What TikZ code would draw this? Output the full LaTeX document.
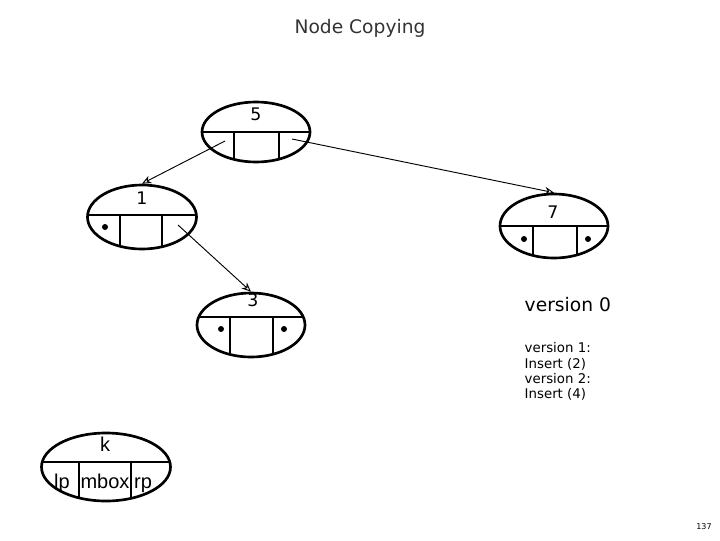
\documentclass[tikz,border=0pt]{standalone}
\usepackage{fontspec}
\setmainfont{DejaVu Sans}
\newfontfamily\arialf{Liberation Sans}
\usetikzlibrary{shapes.geometric,arrows.meta}
\newcommand\lnode[8]{% name, cx, cy, w, h, liney, v1, v2
  \node[draw,line width=2pt,ellipse,inner sep=0,minimum width=#4*0.75pt,minimum height=#5*0.75pt] (#1) at (#2,#3) {};
  \begin{scope}
    \clip (#2,#3) ellipse ({#4/2} and {#5/2});
    \draw[line width=2pt] (#2-#4/2,#8) -- (#2+#4/2,#8);
    \draw[line width=2pt] (#6,#8) -- (#6,#3+#5/2) (#7,#8) -- (#7,#3+#5/2);
  \end{scope}}
\begin{document}
\begin{tikzpicture}[x=0.75pt,y=-0.75pt,
  arr/.style={-{Stealth[length=7pt,width=6pt,open]},line width=0.7pt},
  dot/.style={circle,fill,inner sep=0,minimum size=4.5pt},
  ak/.style={font=\arialf\fontsize{15}{17}\selectfont,anchor=base}]
\useasboundingbox (0,0) rectangle (720,540);
\node[font=\fontsize{14}{16}\selectfont,text=black!80] (title) at (360,28) {Node Copying};
\lnode{n5}{256}{132}{108}{60}{234}{279}{132}
\node[font=\fontsize{13}{15}\selectfont] (l5) at (256,114) {5};
\lnode{n1}{142}{217}{109}{64}{120}{162}{215}
\node[font=\fontsize{13}{15}\selectfont] (l1) at (142,198) {1};
\node[dot] (d1) at (105,227) {};
\lnode{n7}{554}{226}{108}{64}{533}{577}{226}
\node[font=\fontsize{13}{15}\selectfont] (l7) at (553,212) {7};
\node[dot] (d7a) at (524,239) {};
\node[dot] (d7b) at (588,239) {};
\lnode{n3}{251}{325}{108}{64}{230}{273}{317}
\node[font=\fontsize{13}{15}\selectfont] (l3) at (253,300) {3};
\node[dot] (d3a) at (221,329) {};
\node[dot] (d3b) at (284,329) {};
\lnode{nk}{106}{467}{129}{68}{79}{131}{462}
\node[ak] (lk) at (105,451) {k};
\node[ak] (lp) at (62,488) {lp};
\node[ak] (mb) at (105,488) {mbox};
\node[ak] (rp) at (143,488) {rp};
\coordinate (a1) at (225,141);
\coordinate (a2) at (292,139);
\coordinate (a3) at (178,225);
\draw[arr] (a1) -- (n1.north);
\draw[arr] (a2) -- (n7.north);
\draw[arr] (a3) -- (n3.north);
\node[anchor=west,font=\fontsize{14}{16}\selectfont] (v0) at (520,305) {version 0};
\node[anchor=north west,align=left,font=\fontsize{10}{11.5}\selectfont] (v1) at (520,338) {version 1:\\Insert (2)\\version 2:\\Insert (4)};
\node[font=\fontsize{6}{7}\selectfont] (pg) at (704,527) {137};
\end{tikzpicture}
\end{document}
